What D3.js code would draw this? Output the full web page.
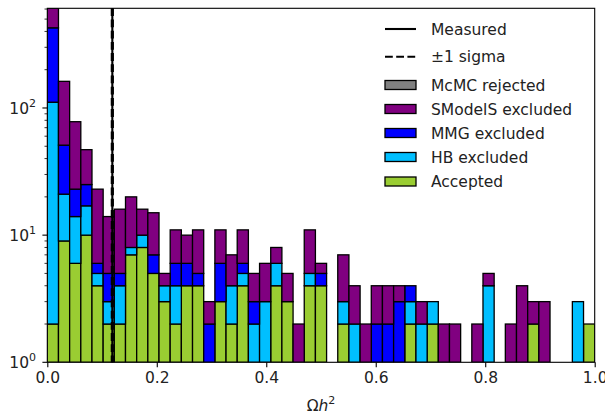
<!DOCTYPE html>
<html>
<head>
<meta charset="utf-8">
<script src="https://cdn.jsdelivr.net/npm/d3@7"></script>
<style>
  body { margin: 0; background: #fff; }
  svg { display: block; font-family: 'DejaVu Sans', sans-serif; }
</style>
</head>
<body>
<div class="chart"></div>
<script>
// histogram bins: 49 equal bins over [0, 1]
const nBins = 49;
const binEdges = d3.range(nBins + 1).map(i => i / nBins);

// counts per bin (stack order bottom -> top)
const accepted = [2, 9, 6, 10, 4, 2, 2, 7, 8, 5, 3, 2, 4, 4, 0, 3, 2, 4, 0, 0, 4, 3, 0, 4, 4, 0, 2, 0, 0, 0,
                  0, 0, 2, 0, 2, 0, 0, 0, 0, 0, 0, 0, 0, 2, 0, 0, 0, 0, 2];
const hbExcluded = [109, 12, 8, 7, 1, 1, 2, 1, 2, 0, 1, 2, 0, 0, 0, 0, 2, 1, 2, 3, 2, 0, 0, 1, 0, 0, 1, 2, 0, 0,
                    0, 0, 1, 2, 1, 0, 0, 0, 0, 4, 0, 0, 0, 0, 0, 0, 0, 3, 0];
const mmgExcluded = [316, 30, 9, 8, 1, 2, 1, 0, 0, 2, 0, 2, 2, 1, 2, 3, 0, 1, 1, 0, 0, 0, 0, 0, 1, 0, 0, 0, 0, 2,
                     2, 3, 1, 0, 0, 0, 0, 0, 0, 0, 0, 0, 0, 0, 0, 0, 0, 0, 0];
const smodelsExcluded = [480, 111, 55, 22, 17, 9, 11, 12, 6, 8, 1, 5, 4, 6, 1, 5, 3, 5, 2, 3, 2, 2, 2, 6, 1, 0, 4, 2, 2, 2,
                         2, 1, 0, 1, 0, 2, 2, 0, 2, 1, 0, 2, 4, 1, 3, 0, 0, 0, 0];
const mcmcRejected = [0, 0, 0, 0, 0, 0, 0, 0, 0, 0, 0, 0, 0, 0, 0, 0, 0, 0, 0, 0, 0, 0, 0, 0, 0, 0, 0, 0, 0, 0,
                      0, 0, 0, 0, 0, 0, 0, 0, 0, 0, 0, 0, 0, 0, 0, 0, 0, 0, 0];

// relic density measurement
const omegaMeasured = 0.1188;
const omegaSigma = 0.0010;

const seriesKeys = ['acc', 'hb', 'mmg', 'smodels', 'mcmc'];
const seriesNames = ['Accepted', 'HB excluded', 'MMG excluded', 'SModelS excluded', 'McMC rejected'];
const seriesColors = ['yellowgreen', 'deepskyblue', 'blue', 'purple', 'grey'];
const xTicks = [0, 0.2, 0.4, 0.6, 0.8, 1.0];
const yTicks = [1, 10, 100];

const W = 605, H = 416;
const plot = { left: 47.3, right: 594.7, top: 8.3, bottom: 362.3 };

const svg = d3.select('.chart')
    .append('svg')
    .attr('width', W)
    .attr('height', H);

const x = d3.scaleLinear().domain([0, 1]).range([plot.left, plot.right]);
const y = d3.scaleLog().domain([1, 608]).range([plot.bottom, plot.top]).clamp(true);

// table for the stack
const table = accepted.map((v, i) => ({
    x0: binEdges[i], x1: binEdges[i + 1],
    acc: v, hb: hbExcluded[i], mmg: mmgExcluded[i], smodels: smodelsExcluded[i], mcmc: mcmcRejected[i]
}));
const stacked = d3.stack().keys(seriesKeys)(table);

svg.append('clipPath').attr('id', 'clip')
  .append('rect')
    .attr('x', plot.left).attr('y', plot.top)
    .attr('width', plot.right - plot.left).attr('height', plot.bottom - plot.top);

const bars = svg.append('g').attr('clip-path', 'url(#clip)');

stacked.forEach((layer, k) => {
    bars.append('g')
        .selectAll('rect')
        .data(layer.filter(d => d[1] - d[0] > 0))
        .enter()
        .append('rect')
        .attr('x', d => x(d.data.x0))
        .attr('width', d => x(d.data.x1) - x(d.data.x0))
        .attr('y', d => y(Math.max(d[1], 1)))
        .attr('height', d => y(Math.max(d[0], 1)) - y(Math.max(d[1], 1)))
        .attr('fill', seriesColors[k])
        .attr('stroke', '#000')
        .attr('stroke-width', 1.3);
});

// measured value and +-1 sigma
const vlines = svg.append('g');
vlines.append('line')
    .attr('x1', x(omegaMeasured)).attr('x2', x(omegaMeasured))
    .attr('y1', plot.top).attr('y2', plot.bottom)
    .attr('stroke', '#000').attr('stroke-width', 2.1);
[omegaMeasured - omegaSigma, omegaMeasured + omegaSigma].forEach(v => {
    vlines.append('line')
        .attr('x1', x(v)).attr('x2', x(v))
        .attr('y1', plot.top).attr('y2', plot.bottom)
        .attr('stroke', '#000').attr('stroke-width', 2.1)
        .attr('stroke-dasharray', '7.8,3.4');
});

// axes frame
svg.append('rect')
    .attr('x', plot.left).attr('y', plot.top)
    .attr('width', plot.right - plot.left).attr('height', plot.bottom - plot.top)
    .attr('fill', 'none').attr('stroke', '#000').attr('stroke-width', 1.1);

// x axis
const xAxis = svg.append('g')
    .attr('transform', `translate(0, ${plot.bottom})`)
    .call(d3.axisBottom(x).tickValues(xTicks).tickFormat(d3.format('.1f')).tickSize(4.9).tickPadding(5));
xAxis.select('.domain').remove();
xAxis.selectAll('line').attr('stroke-width', 1.1);
xAxis.selectAll('text')
    .attr('font-family', 'DejaVu Sans, sans-serif')
    .attr('font-size', 15.5)
    .attr('fill', '#222');

// y axis: minor ticks
const minor = [];
[1, 10, 100].forEach(dec => d3.range(2, 10).forEach(m => { if (dec * m < 608) minor.push(dec * m); }));
svg.append('g')
    .selectAll('line')
    .data(minor)
    .enter()
    .append('line')
    .attr('x1', plot.left - 2.8).attr('x2', plot.left)
    .attr('y1', d => y(d)).attr('y2', d => y(d))
    .attr('stroke', '#000').attr('stroke-width', 0.8);

// y axis: major ticks and 10^n labels
const yMajor = svg.append('g');
yMajor.selectAll('line')
    .data(yTicks)
    .enter()
    .append('line')
    .attr('x1', plot.left - 4.9).attr('x2', plot.left)
    .attr('y1', d => y(d)).attr('y2', d => y(d))
    .attr('stroke', '#000').attr('stroke-width', 1.1);
const yLab = yMajor.selectAll('text')
    .data(yTicks)
    .enter()
    .append('text')
    .attr('x', 36)
    .attr('y', d => y(d) + 6)
    .attr('text-anchor', 'end')
    .attr('font-size', 15.5)
    .attr('fill', '#222');
yLab.append('tspan').text('10');
yLab.append('tspan')
    .attr('dy', -7)
    .attr('font-size', 11)
    .text(d => Math.round(Math.log10(d)));

// x axis label
const xl = svg.append('text')
    .attr('x', (plot.left + plot.right) / 2)
    .attr('y', 411)
    .attr('text-anchor', 'middle')
    .attr('font-size', 15.5)
    .attr('fill', '#222');
xl.append('tspan').text('Ω');
xl.append('tspan').attr('font-style', 'italic').text('h');
xl.append('tspan').attr('dy', -7).attr('font-size', 11).text('2');

// legend
const legend = svg.append('g');
const lx = 385, lw = 31, tx = 431;
const lineRows = [
    { label: 'Measured', dash: null, cy: 29 },
    { label: '±1 sigma', dash: '7.8,3.4', cy: 56.8 }
];
lineRows.forEach(r => {
    legend.append('line')
        .attr('x1', lx).attr('x2', lx + lw)
        .attr('y1', r.cy).attr('y2', r.cy)
        .attr('stroke', '#000').attr('stroke-width', 2.1)
        .attr('stroke-dasharray', r.dash);
    legend.append('text')
        .attr('x', tx).attr('y', r.cy + 5.5)
        .attr('font-size', 15.5).attr('fill', '#222')
        .text(r.label);
});
const patchRows = [4, 3, 2, 1, 0];
const patchY = [85, 109, 133, 157, 181.5];
patchRows.forEach((k, j) => {
    legend.append('rect')
        .attr('x', lx).attr('y', patchY[j] - 4.5)
        .attr('width', lw).attr('height', 9)
        .attr('fill', seriesColors[k])
        .attr('stroke', '#000').attr('stroke-width', 1.3);
    legend.append('text')
        .attr('x', tx).attr('y', patchY[j] + 5.5)
        .attr('font-size', 15.5).attr('fill', '#222')
        .text(seriesNames[k]);
});
</script>
</body>
</html>
